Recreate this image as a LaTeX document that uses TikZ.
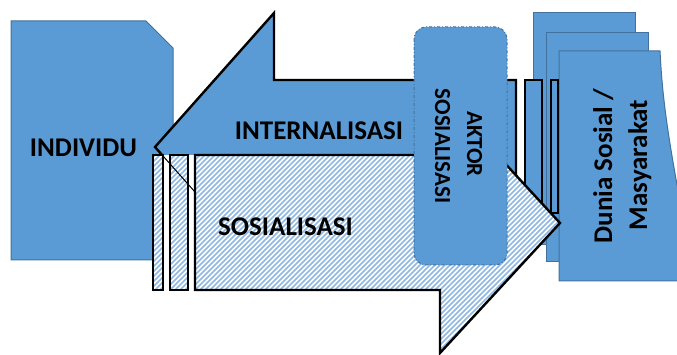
\documentclass[tikz,border=0pt]{standalone}
\usepackage{fontspec}
\setmainfont{Carlito}
\definecolor{ablue}{HTML}{5B9BD5}
\definecolor{aedge}{HTML}{41719C}
\definecolor{hatchc}{HTML}{8FB8E2}
\begin{document}
\begin{tikzpicture}[x=1pt,y=-1pt,
  blueshape/.style={fill=ablue,draw=aedge,line width=1pt},
  arrowline/.style={draw=black,line width=2.4pt,line join=miter},
  stripe/.style={draw=hatchc,line width=1.7pt},
  lbl/.style={font=\bfseries\fontsize{27}{30}\selectfont,inner sep=0pt},
  smalllbl/.style={font=\bfseries\fontsize{23}{26}\selectfont,inner sep=0pt}]
\clip (0,0) rectangle (677,355);
% INDIVIDU (snipped rectangle)
\draw[blueshape] (11,21) -- (146,21) -- (173,48) -- (173,260) -- (11,260) -- cycle;
% Dunia Sosial / Masyarakat (multi-document)
\draw[blueshape] (533,13) rectangle (635,245);
\draw[blueshape] (546,33) rectangle (648,262);
\draw[blueshape] (559,51) -- (660,51) .. controls (663,110) and (670,150) .. (695,281) -- (559,281) -- cycle;
% INTERNALISASI arrow (pointing left)
\draw[arrowline,fill=ablue] (155,147) -- (274,13) -- (274,80) -- (516,80) -- (516,213) -- (274,213) -- (274,281) -- cycle;
\draw[arrowline,fill=ablue] (525,80) rectangle (542,213);
\draw[arrowline,fill=ablue] (551,80) rectangle (558,213);
% SOSIALISASI arrow (pointing right, hatched)
\fill[white] (153,155) rectangle (195,290);
\begin{scope}
  \clip (153,155) rectangle (163,290) (170,155) rectangle (188,290);
  \foreach \i in {-200,-195,...,200} \draw[stripe] (\i,300) -- (\i+160,140);
\end{scope}
\draw[arrowline] (153,155) rectangle (163,290);
\draw[arrowline] (170,155) rectangle (188,290);
\draw[black,line width=1pt] (155,147) -- (195,192);
\fill[white] (195,155) -- (440,155) -- (440,93) -- (560,223) -- (440,353) -- (440,290) -- (195,290) -- cycle;
\begin{scope}
  \clip (195,155) -- (440,155) -- (440,93) -- (560,223) -- (440,353) -- (440,290) -- (195,290) -- cycle;
  \foreach \i in {-100,-95,...,580} \draw[stripe] (\i,360) -- (\i+280,80);
\end{scope}
\draw[arrowline] (195,155) -- (440,155) -- (440,93) -- (560,223) -- (440,353) -- (440,290) -- (195,290) -- cycle;
% AKTOR SOSIALISASI
\draw[fill=ablue,draw=aedge,line width=1pt,dash dot,rounded corners=12pt] (414,27) rectangle (507,265);
% Labels
\node[lbl,anchor=base] (individu) at (83.5,157) {INDIVIDU};
\node[lbl,anchor=base] (internal) at (319,140) {INTERNALISASI};
\node[lbl,anchor=base] (sosial) at (285.5,236) {SOSIALISASI};
\node[smalllbl,anchor=base,rotate=-90] (aktor) at (467,144) {AKTOR};
\node[smalllbl,anchor=base,rotate=-90] (aktorsos) at (435,146) {SOSIALISASI};
\node[lbl,anchor=base,rotate=90] (dunia) at (612,166) {Dunia Sosial /};
\node[lbl,anchor=base,rotate=90] (masy) at (647,165) {Masyarakat};
\end{tikzpicture}
\end{document}
